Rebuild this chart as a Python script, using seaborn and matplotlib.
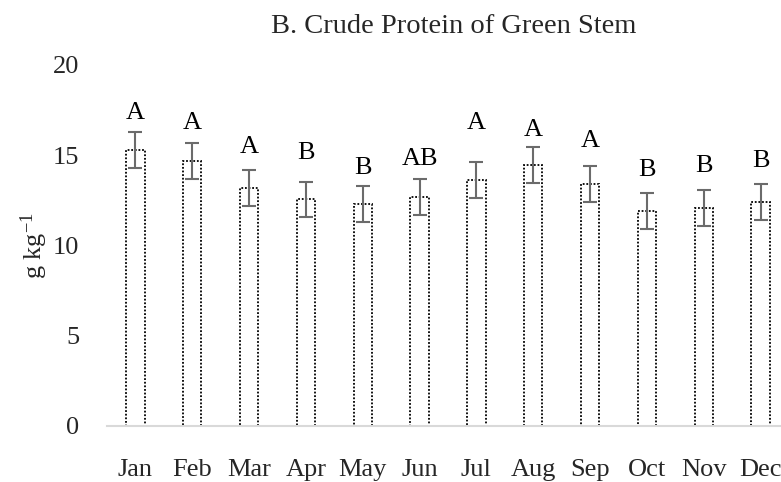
import matplotlib
matplotlib.use("Agg")
import matplotlib.pyplot as plt
import seaborn as sns
import pandas as pd
import numpy as np

# --- data ---
months = ["Jan", "Feb", "Mar", "Apr", "May", "Jun",
          "Jul", "Aug", "Sep", "Oct", "Nov", "Dec"]
protein = [15.3, 14.65, 13.2, 12.55, 12.3, 12.7, 13.6, 14.45, 13.4, 11.9, 12.05, 12.4]
std_err = [1.0, 1.0, 1.0, 0.97, 1.0, 1.0, 1.0, 1.0, 1.0, 0.98, 1.0, 1.0]
letters = ["A", "A", "A", "B", "B", "AB", "A", "A", "A", "B", "B", "B"]
letter_y = [17.35, 16.8, 15.45, 15.1, 14.3, 14.8, 16.8, 16.4, 15.8, 14.2, 14.4, 14.65]

df = pd.DataFrame({"month": months, "cp": protein})

sns.set_style("white")
plt.rcParams["font.family"] = ["Liberation Serif", "DejaVu Serif"]
plt.rcParams["mathtext.fontset"] = "custom"
plt.rcParams["mathtext.rm"] = "Liberation Serif"
plt.rcParams["mathtext.it"] = "Liberation Serif:italic"

fig = plt.figure(figsize=(7.81, 4.82), dpi=100)
ax = fig.add_axes([107 / 781, 0.1172, 682 / 781, 0.748])

sns.barplot(data=df, x="month", y="cp", ax=ax, width=0.32,
            color="white", edgecolor="black", linewidth=1.3,
            linestyle=(0, (1, 1)), errorbar=None)

x = np.arange(len(months))
ax.errorbar(x, protein, yerr=std_err, fmt="none", ecolor="#6b6b6b",
            elinewidth=1.5, capsize=5, capthick=1.5, zorder=3)

for xi, lab, ly in zip(x, letters, letter_y):
    ax.text(xi, ly, lab, ha="center", va="center", fontsize=19, color="black")

ax.set_ylim(0, 20)
ax.set_xlim(-0.5, 11.5)
ax.set_yticks([0, 5, 10, 15, 20])
ax.tick_params(axis="both", length=0, labelsize=19)
ax.tick_params(axis="x", pad=24)
ax.tick_params(axis="y", pad=20)
for s in ["top", "right", "left"]:
    ax.spines[s].set_visible(False)
ax.spines["bottom"].set_color("#d9d9d9")
ax.spines["bottom"].set_linewidth(1.5)
ax.set_xlabel("")
ax.set_ylabel(r"g kg$^{-1}$", fontsize=19, labelpad=2)
fig.text(454 / 781, 1 - 33 / 482, "B. Crude Protein of Green Stem",
         ha="center", va="baseline", fontsize=20.5)

fig.savefig("out.png", dpi=100)
